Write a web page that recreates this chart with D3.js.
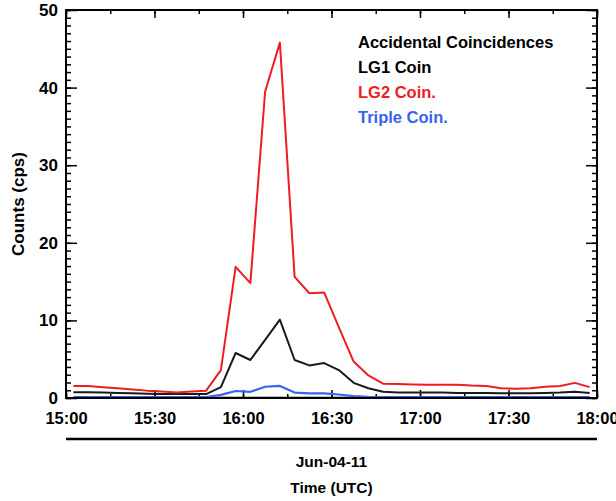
<!DOCTYPE html>
<html>
<head>
<meta charset="utf-8">
<script src="https://cdn.jsdelivr.net/npm/d3@7"></script>
<style>
  html, body { margin: 0; padding: 0; background: #ffffff; }
  svg { display: block; font-family: "Liberation Sans", Arial, Helvetica, sans-serif; font-weight: bold; }
</style>
</head>
<body>
<svg id="chart" width="616" height="501"></svg>
<script>
// ---- data (5-minute samples, bin centres) ----
const times = [
  "15:02:30","15:07:30","15:12:30","15:17:30","15:22:30","15:27:30",
  "15:32:30","15:37:30","15:42:30","15:47:30","15:52:30","15:57:30",
  "16:02:30","16:07:30","16:12:30","16:17:30","16:22:30","16:27:30",
  "16:32:30","16:37:30","16:42:30","16:47:30","16:52:30","16:57:30",
  "17:02:30","17:07:30","17:12:30","17:17:30","17:22:30","17:27:30",
  "17:32:30","17:37:30","17:42:30","17:47:30","17:52:30","17:57:30"
];
const accidental = [
  0.03,0.03,0.03,0.03,0.03,0.03,0.03,0.03,0.03,0.03,0.03,0.03,
  0.03,0.03,0.03,0.03,0.03,0.03,0.03,0.03,0.03,0.03,0.03,0.03,
  0.03,0.03,0.03,0.03,0.03,0.03,0.03,0.03,0.03,0.03,0.03,0.03
];
const lg1 = [
  0.75,0.75,0.7,0.65,0.6,0.55,0.5,0.5,0.5,0.5,1.4,5.8,
  4.9,7.5,10.1,4.9,4.2,4.5,3.6,1.95,1.25,0.8,0.7,0.7,
  0.7,0.7,0.65,0.65,0.65,0.6,0.6,0.6,0.65,0.7,0.8,0.65
];
const lg2 = [
  1.55,1.55,1.4,1.25,1.1,0.95,0.85,0.7,0.85,0.95,3.6,16.9,
  14.8,39.5,45.8,15.6,13.5,13.6,9.1,4.7,2.9,1.85,1.8,1.75,
  1.7,1.7,1.7,1.6,1.55,1.25,1.2,1.25,1.45,1.55,1.95,1.4
];
const triple = [
  0.12,0.12,0.12,0.12,0.12,0.12,0.12,0.12,0.12,0.12,0.4,0.9,
  0.8,1.45,1.55,0.7,0.6,0.6,0.45,0.25,0.15,0.12,0.12,0.12,
  0.12,0.12,0.12,0.12,0.12,0.12,0.12,0.12,0.12,0.12,0.12,0.12
];
const seriesNames = ["Accidental Coincidences", "LG1 Coin", "LG2 Coin.", "Triple Coin."];
const seriesColors = ["#000000", "#1a1a1a", "#ee1c25", "#3a62f0"];
const legendColors = ["#000000", "#000000", "#ee1c25", "#3a62f0"];
const xTickLabels = ["15:00","15:30","16:00","16:30","17:00","17:30","18:00"];
const yTickValues = [0,10,20,30,40,50];
const dateLabel = "Jun-04-11";
const xTitle = "Time (UTC)";
const yTitle = "Counts (cps)";

// ---- layout ----
const W = 616, H = 501;
const L = 66, R = 597, T = 10, B = 398;
const day = "2011-06-04 ";
const parse = d3.timeParse("%Y-%m-%d %H:%M:%S");
const parseHM = d3.timeParse("%Y-%m-%d %H:%M");

const x = d3.scaleTime()
  .domain([parseHM(day + "15:00"), parseHM(day + "18:00")])
  .range([L, R]);
const y = d3.scaleLinear().domain([0, 50]).range([B, T]);

const svg = d3.select("#chart");

const majorX = xTickLabels.map(t => parseHM(day + t));
const minorX = d3.range(0, 181, 15).map(m => d3.timeMinute.offset(parseHM(day + "15:00"), m));
const minorY = d3.range(0, 51, 1);

function styleAxis(g, fs) {
  g.select(".domain").remove();
  g.selectAll(".tick line").attr("stroke", "#000").attr("stroke-width", 1.5);
  g.selectAll("text").attr("fill", "#000").attr("font-size", fs || 16.5).attr("font-weight", "bold")
    .attr("font-family", "Liberation Sans, Arial, sans-serif");
}

// bottom axis: minor + major
svg.append("g").attr("transform", `translate(0,${B})`)
  .call(d3.axisBottom(x).tickValues(minorX).tickSize(-4).tickFormat(""))
  .call(styleAxis);
svg.append("g").attr("transform", `translate(0,${B})`)
  .call(d3.axisBottom(x).tickValues(majorX).tickSize(-8).tickPadding(14)
    .tickFormat(d3.timeFormat("%H:%M")))
  .call(styleAxis);
// top axis
svg.append("g").attr("transform", `translate(0,${T})`)
  .call(d3.axisTop(x).tickValues(minorX).tickSize(-4).tickFormat(""))
  .call(styleAxis);
svg.append("g").attr("transform", `translate(0,${T})`)
  .call(d3.axisTop(x).tickValues(majorX).tickSize(-8).tickFormat(""))
  .call(styleAxis);
// left axis
svg.append("g").attr("transform", `translate(${L},0)`)
  .call(d3.axisLeft(y).tickValues(minorY).tickSize(-5).tickFormat(""))
  .call(styleAxis);
svg.append("g").attr("transform", `translate(${L},0)`)
  .call(d3.axisLeft(y).tickValues(yTickValues).tickSize(-11).tickPadding(8).tickFormat(d3.format("d")))
  .call(g => styleAxis(g, 17));
// right axis
svg.append("g").attr("transform", `translate(${R},0)`)
  .call(d3.axisRight(y).tickValues(minorY).tickSize(-5).tickFormat(""))
  .call(styleAxis);
svg.append("g").attr("transform", `translate(${R},0)`)
  .call(d3.axisRight(y).tickValues(yTickValues).tickSize(-11).tickFormat(""))
  .call(styleAxis);

// lines
const allSeries = [accidental, lg1, lg2, triple];
const line = d3.line()
  .x((d, i) => x(parse(day + times[i])))
  .y(d => y(d));
const drawOrder = [1, 2, 0, 3];
drawOrder.forEach(si => {
  svg.append("path")
    .datum(allSeries[si])
    .attr("fill", "none")
    .attr("stroke", seriesColors[si])
    .attr("stroke-width", si === 3 ? 2.2 : 2)
    .attr("stroke-linejoin", "round")
    .attr("d", line);
});

// frame
svg.append("rect")
  .attr("x", L).attr("y", T).attr("width", R - L).attr("height", B - T)
  .attr("fill", "none").attr("stroke", "#000").attr("stroke-width", 2);

// legend
const legend = svg.append("g");
seriesNames.forEach((name, i) => {
  legend.append("text")
    .attr("x", 358).attr("y", 47.5 + i * 25)
    .attr("font-size", 16.5).attr("font-weight", "bold")
    .attr("fill", legendColors[i])
    .text(name);
});

// date line + titles
svg.append("line")
  .attr("x1", L).attr("x2", R).attr("y1", 439).attr("y2", 439)
  .attr("stroke", "#000").attr("stroke-width", 2.5);
svg.append("text")
  .attr("x", (L + R) / 2).attr("y", 467).attr("text-anchor", "middle")
  .attr("font-size", 15.5).attr("fill", "#000").text(dateLabel);
svg.append("text")
  .attr("x", (L + R) / 2).attr("y", 493).attr("text-anchor", "middle")
  .attr("font-size", 15.5).attr("fill", "#000").text(xTitle);
svg.append("text")
  .attr("transform", `translate(24,${(T + B) / 2}) rotate(-90)`)
  .attr("text-anchor", "middle")
  .attr("font-size", 17).attr("fill", "#000").text(yTitle);
</script>
</body>
</html>
